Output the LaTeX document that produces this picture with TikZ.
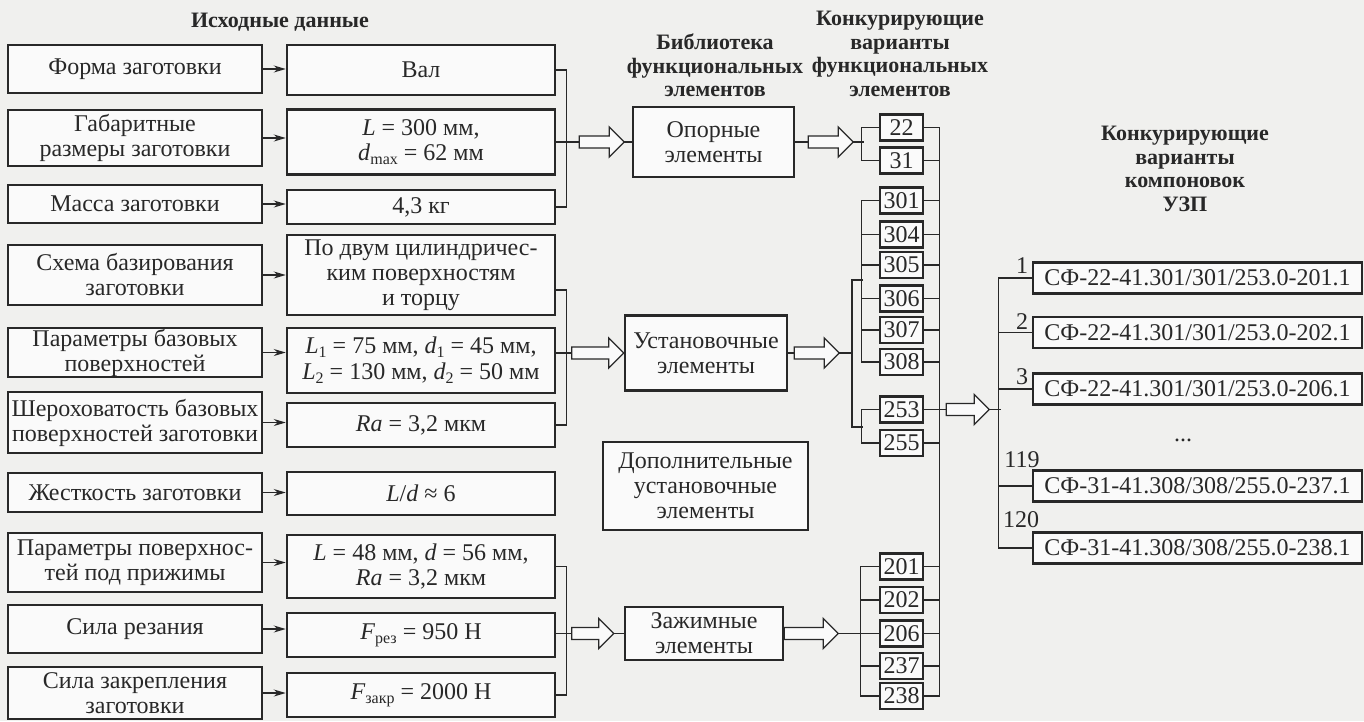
\documentclass[tikz,border=0pt]{standalone}
\usepackage{fontspec}
\setmainfont{Liberation Serif}
\usetikzlibrary{calc,arrows.meta}
\definecolor{ink}{RGB}{40,40,40}
\definecolor{paper}{RGB}{240,240,238}
\definecolor{boxfill}{RGB}{250,250,250}
\newcommand{\sbs}[1]{\raisebox{-0.18em}{\fontsize{16}{16}\selectfont #1}}
\newcommand{\hollowarrow}[2]{%
  \draw[harrow] ($(#1)+(0,-6)$) -- ($(#2)+(-15,-6)$) -- ($(#2)+(-15,-15)$) -- (#2)
    -- ($(#2)+(-15,15)$) -- ($(#2)+(-15,6)$) -- ($(#1)+(0,6)$) -- cycle;}
\begin{document}
\begin{tikzpicture}[x=1pt,y=-1pt,
  every node/.style={font=\fontsize{24}{25}\selectfont, text=ink},
  box/.style={draw=ink, line width=2.5pt, fill=boxfill, align=center, inner sep=0pt},
  lbox/.style={box, minimum width=254pt},
  vbox/.style={box, minimum width=268pt},
  numbox/.style={box, minimum width=43pt, minimum height=26pt, font=\fontsize{24}{24}\selectfont},
  rbox/.style={box, minimum width=329pt, minimum height=31pt},
  title/.style={font=\bfseries\fontsize{22}{23.5}\selectfont, align=center, inner sep=0pt},
  conn/.style={draw=ink, line width=1.2pt},
  sarrow/.style={conn, -{Stealth[length=12pt,width=7pt]}},
  harrow/.style={draw=ink, line width=1.3pt, fill=boxfill, line join=miter},
  lbl/.style={inner sep=0pt, anchor=base}]
\useasboundingbox (0,0) rectangle (1364,721);
\fill[paper] (0,0) rectangle (1364,721);

% titles
\node[title, anchor=base] (t1) at (280,27) {Исходные данные};
\node[title, anchor=north] (t2) at (715,34) {Библиотека\\функциональных\\элементов};
\node[title, anchor=north] (t3) at (900,11) {Конкурирующие\\варианты\\функциональных\\элементов};
\node[title, anchor=north] (t4) at (1185,126) {Конкурирующие\\варианты\\компоновок\\УЗП};

% left column
\node[lbox, minimum height=48pt] (L1) at (135,69) {Форма заготовки};
\node[lbox, minimum height=56pt] (L2) at (135,138) {Габаритные\\размеры заготовки};
\node[lbox, minimum height=38pt] (L3) at (135,204) {Масса заготовки};
\node[lbox, minimum height=60pt] (L4) at (135,275) {Схема базирования\\заготовки};
\node[lbox, minimum height=49pt] (L5) at (135,352.5) {Параметры базовых\\поверхностей};
\node[lbox, minimum height=61pt] (L6) at (135,422.5) {Шероховатость базовых\\поверхностей заготовки};
\node[lbox, minimum height=39pt] (L7) at (135,492.5) {Жесткость заготовки};
\node[lbox, minimum height=59pt] (L8) at (135,562.5) {Параметры поверхнос-\\тей под прижимы};
\node[lbox, minimum height=48pt] (L9) at (135,629) {Сила резания};
\node[lbox, minimum height=52pt] (L10) at (135,693) {Сила закрепления\\заготовки};

% value column
\node[vbox, minimum height=50pt] (Ra) at (421,70) {Вал};
\node[vbox, minimum height=65pt] (Rb) at (421,142) {\textit{L} = 300 мм,\\\textit{d}\sbs{max} = 62 мм};
\node[vbox, minimum height=34pt] (Rc) at (421,207) {4,3 кг};
\node[vbox, minimum height=80pt] (Rd) at (421,275) {По двум цилиндричес-\\ким поверхностям\\и торцу};
\node[vbox, minimum height=65pt, font=\fontsize{24}{26}\selectfont] (Re) at (421,360.5) {\textit{L}\sbs{1} = 75 мм, \textit{d}\sbs{1} = 45 мм,\\\textit{L}\sbs{2} = 130 мм, \textit{d}\sbs{2} = 50 мм};
\node[vbox, minimum height=44pt] (Rf) at (421,425) {\textit{Ra} = 3,2 мкм};
\node[vbox, minimum height=43pt] (Rg) at (421,493.5) {\textit{L}/\textit{d} ≈ 6};
\node[vbox, minimum height=63pt] (Rh) at (421,566.5) {\textit{L} = 48 мм, \textit{d} = 56 мм,\\\textit{Ra} = 3,2 мкм};
\node[vbox, minimum height=44pt] (Ri) at (421,635) {\textit{F}\sbs{рез} = 950 Н};
\node[vbox, minimum height=44pt] (Rj) at (421,695) {\textit{F}\sbs{закр} = 2000 Н};

% input arrows
\foreach \i/\j in {L1/Ra,L2/Rb,L3/Rc,L4/Rd,L5/Re,L6/Rf,L7/Rg,L8/Rh,L9/Ri,L10/Rj}
  \draw[sarrow] (\i.east) -- (\i.east -| \j.west);

% library boxes
\node[box, minimum width=161pt, minimum height=70pt] (Op) at (713.5,142) {Опорные\\элементы};
\node[box, minimum width=162pt, minimum height=75pt] (Ust) at (706,353) {Установочные\\элементы};
\node[box, minimum width=205pt, minimum height=88pt] (Dop) at (705.5,486) {Дополнительные\\установочные\\элементы};
\node[box, minimum width=158pt, minimum height=53pt] (Zaj) at (704,633.5) {Зажимные\\элементы};

% group 1
\draw[conn] (Ra.east) -- ++(10,0) |- (Rc.east);
\coordinate (A1s) at ($(Rb.east)+(23,0)$);
\coordinate (A1t) at ($(Rb.east)+(68,0)$);
\draw[conn] (Rb.east) -- (A1s);
\hollowarrow{A1s}{A1t}
\draw[conn] (A1t) -- (Op.west);
% group 2
\draw[conn] ($(Rd.east)+(0,15)$) -- ++(10,0) |- (Rf.east);
\coordinate (A2s) at ($(Ust.west)+(-52,0)$);
\coordinate (A2t) at (Ust.west);
\draw[conn] (Re.east |- A2s) -- (A2s);
\hollowarrow{A2s}{A2t}
% group 3
\draw[conn] (Rh.east) -- ++(10,0) |- (Rj.east);
\coordinate (A3s) at ($(Zaj.west)+(-52,0)$);
\coordinate (A3t) at ($(Zaj.west)+(-10,0)$);
\draw[conn] (Ri.east |- A3s) -- (A3s);
\hollowarrow{A3s}{A3t}
\draw[conn] (A3t) -- (Zaj.west);

% number boxes
\foreach \n/\y in {22/127.5,31/160.5,301/200.5,304/234.5,305/265,306/298.5,307/330,308/362,253/409.5,255/443,201/566.5,202/600,206/633.5,237/666,238/696}
  \node[numbox] (n\n) at (901.5,\y) {\n};

% from library to numbers
\coordinate (A4s) at ($(Op.east)+(13,0)$);
\coordinate (A4t) at ($(Op.east)+(58,0)$);
\draw[conn] (Op.east) -- (A4s);
\hollowarrow{A4s}{A4t}
\draw[conn] (A4t) -- ++(11,0);
\draw[conn] (n22.west) -- ++(-17,0) |- (n31.west);

\coordinate (A5s) at ($(Ust.east)+(6,0)$);
\coordinate (A5t) at ($(Ust.east)+(51,0)$);
\draw[conn] (Ust.east) -- (A5s);
\hollowarrow{A5s}{A5t}
\coordinate (J5t) at (852,280);
\coordinate (J5b) at (852,427);
\draw[conn] (A5t) -- (A5t -| J5t);
\draw[conn] ($(J5t)+(11,0)$) -- (J5t) -- (J5b) -- ++(11,0);
\draw[conn] (n301.west) -- ++(-17,0) |- (n308.west);
\foreach \n in {304,305,306,307} \draw[conn] (n\n.west) -- ++(-17,0);
\draw[conn] (n253.west) -- ++(-17,0) |- (n255.west);

\coordinate (A6t) at ($(Zaj.east)+(54,0)$);
\hollowarrow{Zaj.east}{A6t}
\draw[conn] (A6t) -- (n206.west);
\draw[conn] (n201.west) -- ++(-18,0) |- (n238.west);
\foreach \n in {202,237} \draw[conn] (n\n.west) -- ++(-18,0);

% right bracket of numbers
\draw[conn] (n22.east) -- ++(15,0) |- (n238.east);
\foreach \n in {31,301,304,305,306,307,308,255,201,202,206,237} \draw[conn] (n\n.east) -- ++(15,0);
\coordinate (A7s) at ($(n253.east)+(22,0)$);
\coordinate (A7t) at ($(n253.east)+(65,0)$);
\draw[conn] (n253.east) -- (A7s);
\hollowarrow{A7s}{A7t}
\draw[conn] (A7t) -- ++(12,0);

% result boxes
\node[rbox] (r1) at (1197.5,278) {СФ-22-41.301/301/253.0-201.1};
\node[rbox] (r2) at (1197.5,332.5) {СФ-22-41.301/301/253.0-202.1};
\node[rbox] (r3) at (1197.5,389) {СФ-22-41.301/301/253.0-206.1};
\node[inner sep=0pt] (dots) at (1183,440) {...};
\node[rbox] (r119) at (1197.5,486) {СФ-31-41.308/308/255.0-237.1};
\node[rbox] (r120) at (1197.5,548) {СФ-31-41.308/308/255.0-238.1};
\draw[conn] (r1.west) -- ++(-33,0) |- (r120.west);
\foreach \n in {r2,r3,r119} \draw[conn] (\n.west) -- ++(-33,0);
\node[lbl] (k1) at (1022,273) {1};
\node[lbl] (k2) at (1022,329) {2};
\node[lbl] (k3) at (1022,384) {3};
\node[lbl] (k119) at (1022,467) {119};
\node[lbl] (k120) at (1021,527) {120};
\end{tikzpicture}
\end{document}
